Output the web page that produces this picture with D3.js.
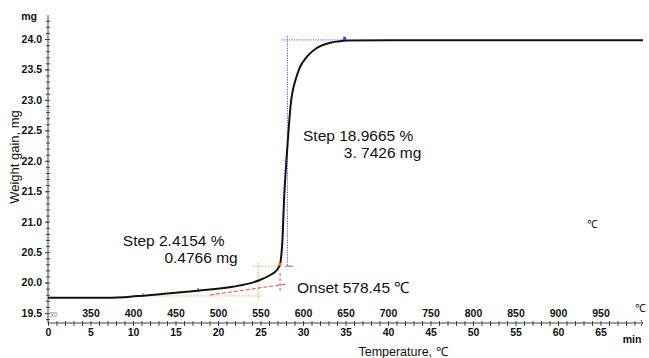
<!DOCTYPE html>
<html><head><meta charset="utf-8">
<script src="https://cdn.jsdelivr.net/npm/d3@7"></script>
<style>
html,body{margin:0;padding:0;background:#fff;}
svg{display:block;}
text{font-family:"Liberation Sans",Arial,sans-serif;}
</style></head>
<body>
<script>
// ---- data ----
const curveMin = [0,5,7.5,9,11.2,14,17.6,21.7,24.7,26.1,27.0,27.3,27.45,27.58,27.77,28.05,28.25,28.4,28.55,28.75,29.0,29.4,29.8,30.3,30.8,31.5,32.3,33.2,34.1,35.1,40,70];
const curveMg  = [19.750,19.750,19.752,19.760,19.785,19.82,19.866,19.93,20.03,20.12,20.22,20.30,20.45,20.70,21.36,22.01,22.40,22.68,22.92,23.12,23.27,23.45,23.58,23.68,23.76,23.84,23.90,23.94,23.96,23.975,23.98,23.98];
const minTickLabels = [0,5,10,15,20,25,30,35,40,45,50,55,60,65];
const tempTickLabels = ["30","350","400","450","500","550","600","650","700","750","800","850","900","950"];
const yTickLabels = [19.5,20.0,20.5,21.0,21.5,22.0,22.5,23.0,23.5,24.0];
const stepLabels = [
  {lines:["Step 2.4154 %","0.4766 mg"], at:[8.8,20.6], indent:[0,4.9]},
  {lines:["Step 18.9665 %","3. 7426 mg"], at:[30.0,22.33], indent:[0,4.8]}
];
const onsetLabel = {text:"Onset 578.45 ℃", at:[29.3,19.83]};

const W=649,H=358;
const svg=d3.select("body").append("svg").attr("width",W).attr("height",H);

const axisY=323, axisX=48;
const x=d3.scaleLinear().domain([0,70]).range([48,643]);
const y=d3.scaleLinear().domain([19.5,24.0]).range([313,39]);

const axColor="#444";

// x axis minor/major ticks (crossing)
const minorMin=d3.range(0,70,1);
svg.append("g").attr("transform",`translate(0,${axisY})`)
  .call(d3.axisBottom(x).tickValues(minorMin).tickSizeInner(3).tickSizeOuter(0).tickFormat(""))
  .call(g=>{g.select(".domain").attr("stroke",axColor).attr("d",`M${x(0)},0H${x(70)}`);g.selectAll("line").attr("stroke",axColor);});
svg.append("g").attr("transform",`translate(0,${axisY})`)
  .call(d3.axisTop(x).tickValues(minorMin).tickSizeInner(2).tickSizeOuter(0).tickFormat(""))
  .call(g=>{g.select(".domain").remove();g.selectAll("line").attr("stroke",axColor);});
// end hook
svg.append("path").attr("d",`M${x(70)-2},${axisY-3}Q${x(70)+1},${axisY} ${x(70)-2},${axisY+3}`).attr("fill","none").attr("stroke",axColor);

// min labels
svg.append("g").attr("transform",`translate(0,${axisY})`)
  .call(d3.axisBottom(x).tickValues(minTickLabels).tickSize(0).tickPadding(6).tickFormat(d=>d))
  .call(g=>{g.select(".domain").remove();g.selectAll("text").attr("font-size",10.5).attr("font-weight","bold").attr("fill","#111").attr("font-family","Liberation Sans, Arial, sans-serif");});
// temperature labels
svg.append("g").attr("transform",`translate(0,${axisY})`)
  .call(d3.axisTop(x).tickValues(minTickLabels).tickSize(0).tickPadding(6).tickFormat((d,i)=>tempTickLabels[i]))
  .call(g=>{g.select(".domain").remove();
    g.selectAll("text").attr("font-size",10.5).attr("font-weight","bold").attr("fill","#111").attr("font-family","Liberation Sans, Arial, sans-serif");
    g.selectAll(".tick").filter((d,i)=>i===0).select("text").attr("font-size",7).attr("font-weight","normal").attr("fill","#888").attr("text-anchor","start").attr("dx",1);});

// y axis
const yMinor=d3.range(19.4,24.4,0.1);
svg.append("g").attr("transform",`translate(${axisX},0)`)
  .call(d3.axisLeft(y).tickValues(yMinor).tickSizeInner(2).tickSizeOuter(0).tickFormat(""))
  .call(g=>{g.select(".domain").attr("stroke",axColor).attr("d",`M0,${axisY}V15`);g.selectAll("line").attr("stroke",axColor);});
svg.append("g").attr("transform",`translate(${axisX},0)`)
  .call(d3.axisRight(y).tickValues(yMinor).tickSizeInner(2).tickSizeOuter(0).tickFormat(""))
  .call(g=>{g.select(".domain").remove();g.selectAll("line").attr("stroke",axColor);});
svg.append("g").attr("transform",`translate(${axisX},0)`)
  .call(d3.axisLeft(y).tickValues(yTickLabels).tickSizeInner(3).tickSizeOuter(0).tickPadding(3).tickFormat(d3.format(".1f")))
  .call(g=>{g.select(".domain").remove();g.selectAll("line").attr("stroke",axColor);
    g.selectAll("text").attr("font-size",10.5).attr("font-weight","bold").attr("fill","#111").attr("font-family","Liberation Sans, Arial, sans-serif");});

// axis titles
svg.append("text").attr("x",29).attr("y",20).attr("text-anchor","middle").attr("font-size",10.5).attr("font-weight","bold").attr("fill","#111").text("mg");
svg.append("text").attr("transform","translate(19,157) rotate(-90)").attr("text-anchor","middle").attr("font-size",13).attr("fill","#111").text("Weight gain, mg");
svg.append("text").attr("x",403).attr("y",356).attr("text-anchor","middle").attr("font-size",12.5).attr("fill","#111").text("Temperature, ℃");
svg.append("text").attr("x",632).attr("y",343).attr("text-anchor","middle").attr("font-size",10.5).attr("font-weight","bold").attr("fill","#111").text("min");
svg.append("text").attr("x",640).attr("y",312).attr("text-anchor","middle").attr("font-size",11).attr("fill","#111").text("℃");
svg.append("text").attr("x",592).attr("y",228).attr("text-anchor","middle").attr("font-size",11).attr("fill","#111").text("℃");

// guide lines
const gl=(pts,color,dash,w)=>svg.append("path").attr("d",d3.line().x(d=>x(d[0])).y(d=>y(d[1]))(pts))
  .attr("fill","none").attr("stroke",color).attr("stroke-width",w||1).attr("stroke-dasharray",dash);
// orange
gl([[24.74,20.32],[24.74,19.71]],"#f5a65b","1.5,1.5");
gl([[24.1,20.27],[27.4,20.27]],"#f5a65b","1.5,1.5");
gl([[11.18,19.78],[25.3,19.78]],"#f5a65b","1.5,1.5");
gl([[11.18,19.78],[11.18,19.83]],"#f08020",null,1.2);
// red
gl([[19.06,19.796],[28.12,19.976]],"#f04050","4,2");
gl([[27.3,20.157],[27.3,19.845]],"#f04050","3,2");
gl([[17.65,19.85],[17.65,19.91]],"#e02030",null,1.2);
// blue
gl([[28.18,24.05],[28.18,20.27]],"#5060f0","1.2,1.2");
gl([[27.5,23.985],[35.0,23.985]],"#5060f0","1.2,1.2");
gl([[27.9,20.27],[28.8,20.27]],"#5060f0",null,1);

// curve
const pts=curveMin.map((m,i)=>[m,curveMg[i]]);
svg.append("path").attr("d",d3.line().x(d=>x(d[0])).y(d=>y(d[1])).curve(d3.curveMonotoneX)(pts))
  .attr("fill","none").attr("stroke","#111").attr("stroke-width",2);

// markers
svg.append("circle").attr("cx",x(27.3)).attr("cy",y(20.30)).attr("r",1.6).attr("fill","#f08020");
svg.append("circle").attr("cx",x(28.0)).attr("cy",y(22.01)).attr("r",1.2).attr("fill","#e02030");
svg.append("rect").attr("x",x(34.9)-1.5).attr("y",y(24.01)-1.5).attr("width",3).attr("height",3).attr("fill","#3040f0");

// annotations
stepLabels.forEach(s=>{
  s.lines.forEach((t,i)=>{
    svg.append("text").attr("x",x(s.at[0]+s.indent[i])).attr("y",y(s.at[1])+i*17)
      .attr("font-size",15.5).attr("fill","#111").text(t);
  });
});
svg.append("text").attr("x",x(onsetLabel.at[0])).attr("y",y(onsetLabel.at[1])).attr("font-size",15.5).attr("fill","#111").text(onsetLabel.text);
</script>
</body></html>
